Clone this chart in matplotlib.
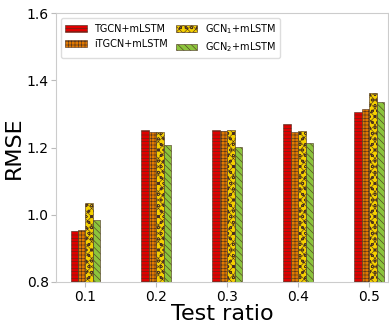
import matplotlib
matplotlib.use('Agg')
import matplotlib.pyplot as plt
import numpy as np

ratios = ['0.1', '0.2', '0.3', '0.4', '0.5']
tgcn = [0.953, 1.252, 1.252, 1.270, 1.307]
itgcn = [0.955, 1.245, 1.248, 1.245, 1.315]
gcn1 = [1.036, 1.245, 1.252, 1.250, 1.362]
gcn2 = [0.983, 1.207, 1.203, 1.212, 1.335]

series = [
    ('TGCN+mLSTM', tgcn, '#e00000', '-----'),
    ('iTGCN+mLSTM', itgcn, '#e07800', '+++++'),
    (r'GCN$_1$+mLSTM', gcn1, '#f5d000', 'xxxxooo'),
    (r'GCN$_2$+mLSTM', gcn2, '#8cc43c', '\\\\\\\\\\'),
]

plt.rcParams['hatch.linewidth'] = 0.4

fig, ax = plt.subplots(figsize=(3.89, 3.26), dpi=100)
x = np.arange(len(ratios))
w = 0.105
for i, (name, vals, col, hatch) in enumerate(series):
    ax.bar(x + (i - 1.5) * w, vals, w, color=col, edgecolor='#4a3020',
           hatch=hatch, linewidth=0.4, label=name)

ax.set_ylim(0.8, 1.6)
ax.set_xlim(-0.41, 4.27)
ax.set_yticks([0.8, 1.0, 1.2, 1.4, 1.6])
ax.set_xticks(x)
ax.set_xticklabels(ratios)
ax.tick_params(labelsize=10, color='#bbbbbb', pad=2)
for s in ax.spines.values():
    s.set_color('#cccccc')
ax.set_ylabel('RMSE', fontsize=16, labelpad=2)
ax.set_xlabel('Test ratio', fontsize=16, labelpad=0)
ax.legend(loc='upper left', ncol=2, fontsize=7, framealpha=1,
          edgecolor='#dddddd', handlelength=2.2, columnspacing=0.8)

fig.subplots_adjust(left=0.145, right=0.998, top=0.96, bottom=0.135)
fig.savefig('out.png', dpi=100)
